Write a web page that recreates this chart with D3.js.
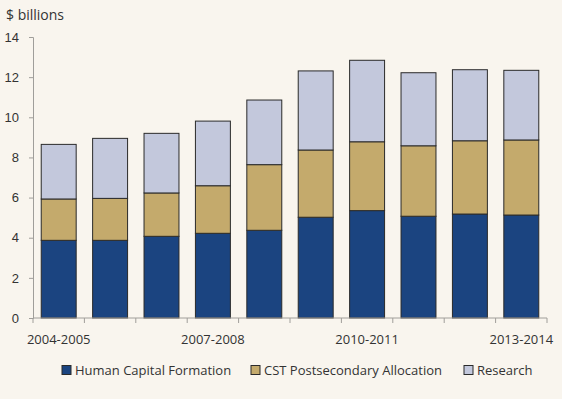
<!DOCTYPE html>
<html>
<head>
<meta charset="utf-8">
<script src="https://cdn.jsdelivr.net/npm/d3@7"></script>
<style>
  body { margin: 0; background: #f9f5ee; }
  svg { display: block; font-family: "Open Sans", sans-serif; }
</style>
</head>
<body>
<script>
// data ($ billions)
var years = ["2004-2005", "2005-2006", "2006-2007", "2007-2008", "2008-2009",
             "2009-2010", "2010-2011", "2011-2012", "2012-2013", "2013-2014"];
var humanCapital = [3.87, 3.87, 4.07, 4.22, 4.37, 5.02, 5.35, 5.07, 5.18, 5.13];
var cstPostsec   = [2.06, 2.09, 2.16, 2.37, 3.27, 3.35, 3.43, 3.51, 3.65, 3.74];
var research     = [2.72, 2.99, 2.97, 3.22, 3.22, 3.94, 4.06, 3.64, 3.54, 3.47];
var shownYears = ["2004-2005", "2007-2008", "2010-2011", "2013-2014"];
var yTicks = [0, 2, 4, 6, 8, 10, 12, 14];

var seriesNames = ["Human Capital Formation", "CST Postsecondary Allocation", "Research"];
var colors = ["#1b4480", "#c4aa6c", "#c3c8dc"];

var W = 562, H = 399;
var margin = {top: 37, right: 15, bottom: 81, left: 33};
var width = W - margin.left - margin.right;
var height = H - margin.top - margin.bottom;

var svg = d3.select("body").append("svg")
            .attr("width", W)
            .attr("height", H);

var g = svg.append("g")
           .attr("transform", "translate(" + margin.left + "," + margin.top + ")");

// table for the stack
var rows = years.map(function(y, i) {
  return {year: y, h: humanCapital[i], c: cstPostsec[i], r: research[i]};
});
var stack = d3.stack().keys(["h", "c", "r"])(rows);

var x = d3.scaleBand().domain(years).range([0, width]).paddingInner(0.32).paddingOuter(0.16);
var y = d3.scaleLinear().domain([0, 14]).range([height, 0]);

// bars
stack.forEach(function(layer, k) {
  g.append("g").selectAll("rect")
   .data(layer)
   .join("rect")
   .attr("x", function(d) { return x(d.data.year); })
   .attr("width", x.bandwidth())
   .attr("y", function(d) { return y(d[1]); })
   .attr("height", function(d) { return y(d[0]) - y(d[1]); })
   .attr("fill", colors[k])
   .attr("stroke", "#2a2a2a")
   .attr("stroke-width", 1);
});

// Y axis
var axeY = d3.axisLeft(y).tickValues(yTicks).tickSize(4).tickPadding(10);
var gy = g.append("g").call(axeY);
gy.select(".domain").attr("stroke", "#a09e9a");
gy.selectAll(".tick line").attr("stroke", "#a09e9a");
gy.selectAll("text").style("font-size", "13px").attr("fill", "#333");

// X axis: ticks at band boundaries
var step = x.step();
var gx = g.append("g").attr("transform", "translate(0," + height + ")");
gx.append("line")
  .attr("x1", 0).attr("x2", width)
  .attr("stroke", "#a09e9a");
gx.selectAll(".bnd")
  .data(d3.range(years.length + 1))
  .join("line")
  .attr("x1", function(i) { return i * width / years.length; })
  .attr("x2", function(i) { return i * width / years.length; })
  .attr("y1", 0).attr("y2", 5)
  .attr("stroke", "#a09e9a");
gx.selectAll("text")
  .data(shownYears)
  .join("text")
  .attr("x", function(d) { return x(d) + x.bandwidth() / 2; })
  .attr("y", 26)
  .attr("text-anchor", "middle")
  .style("font-size", "13px")
  .attr("fill", "#333")
  .text(function(d) { return d; });

// unit label
svg.append("text")
   .attr("x", 6).attr("y", 20)
   .style("font-size", "14px")
   .attr("fill", "#333")
   .text("$ billions");

// legend
var legX = [62, 251, 464];
var leg = svg.append("g").attr("transform", "translate(0,370)");
seriesNames.forEach(function(name, k) {
  leg.append("rect")
     .attr("x", legX[k]).attr("y", -4.5)
     .attr("width", 9).attr("height", 9)
     .attr("fill", colors[k])
     .attr("stroke", "#2a2a2a");
  leg.append("text")
     .attr("x", legX[k] + 13).attr("y", 0)
     .attr("dy", "0.35em")
     .style("font-size", "13px")
     .attr("fill", "#333")
     .text(name);
});
</script>
</body>
</html>
